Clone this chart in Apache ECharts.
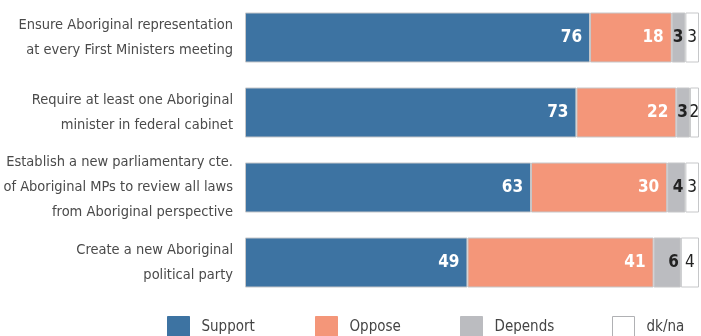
<!DOCTYPE html>
<html lang="en">
<head>
    <meta charset="UTF-8">
    <title>Aboriginal representation</title>
    <script type="text/javascript" src="https://cdn.jsdelivr.net/npm/echarts@6/dist/echarts.min.js"></script>
    <style>
        html, body { margin: 0; padding: 0; background: #fff; }
        #main { width: 701px; height: 336px; }
    </style>
</head>
<body>
<div id="main"></div>
<script>
    // 问题
    let categories = [
        'Ensure Aboriginal representation\nat every First Ministers meeting',
        'Require at least one Aboriginal\nminister in federal cabinet',
        'Establish a new parliamentary cte.\nof Aboriginal MPs to review all laws\nfrom Aboriginal perspective',
        'Create a new Aboriginal\npolitical party'
    ];
    let support = [76, 73, 63, 49];
    let oppose = [18, 22, 30, 41];
    let depends = [3, 3, 4, 6];
    let dkna = [3, 2, 3, 4];

    let font = "'DejaVu Sans Condensed', sans-serif";
    let border = '#c6c7c9';

    function seg(name, data, color, label) {
        return {
            name: name,
            type: 'bar',
            stack: 'all',
            barWidth: 50,
            data: data,
            itemStyle: { color: color, borderColor: border, borderWidth: 1 },
            label: Object.assign({ show: true, fontFamily: font, fontSize: 17 }, label)
        };
    }

    function legendAt(name, x, bc) {
        return {
            data: [{ name: name, itemStyle: { borderColor: bc, borderWidth: 1 } }],
            left: x,
            top: 316,
            padding: 0,
            itemWidth: 22,
            itemHeight: 22,
            itemGap: 0,
            icon: 'rect',
            textStyle: { fontFamily: font, fontSize: 15, color: '#444', padding: [0, 0, 0, 7] }
        };
    }

    var myChart = echarts.init(document.getElementById('main'));
    var option = {
        animation: false,
        grid: { left: 245, right: 2, top: 0, height: 300, outerBoundsMode: 'none', containLabel: false },
        xAxis: {
            type: 'value', min: 0, max: 100, show: false
        },
        yAxis: {
            type: 'category',
            inverse: true,
            data: categories,
            axisLine: { show: false },
            axisTick: { show: false },
            axisLabel: {
                margin: 12, color: '#4a4a4a', fontFamily: font, fontSize: 14.5,
                lineHeight: 25, align: 'right'
            }
        },
        legend: [
            legendAt('Support', 167, '#3d73a2'),
            legendAt('Oppose', 315, '#f49679'),
            legendAt('Depends', 460, '#bbbcc0'),
            legendAt('dk/na', 612, '#b0b1b4')
        ],
        series: [
            seg('Support', support, '#3d73a2', { position: 'insideRight', distance: 8, color: '#fff', fontWeight: 'bold' }),
            seg('Oppose', oppose, '#f49679', { position: 'insideRight', distance: 8, color: '#fff', fontWeight: 'bold' }),
            seg('Depends', depends, '#bbbcc0', { position: 'insideRight', distance: 2, color: '#222', fontWeight: 'bold' }),
            seg('dk/na', dkna, '#ffffff', { position: 'inside', color: '#222' })
        ]
    };
    myChart.setOption(option);
</script>
</body>
</html>
